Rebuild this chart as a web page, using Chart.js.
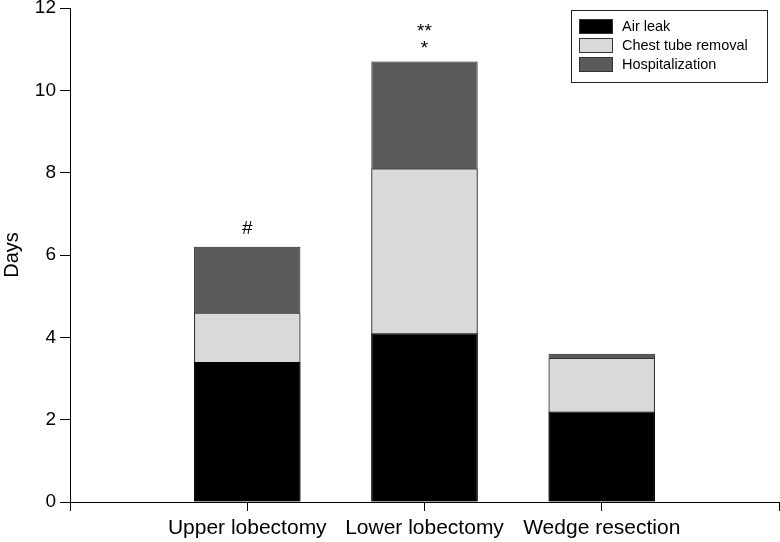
<!DOCTYPE html>
<html>
<head>
<meta charset="utf-8">
<script src="https://cdn.jsdelivr.net/npm/chart.js@4.4.1/dist/chart.umd.min.js"></script>
<style>
  html, body { margin: 0; padding: 0; background: #fff; }
  #wrap { width: 780px; height: 542px; }
</style>
</head>
<body>
<div id="wrap"><canvas id="chart"></canvas></div>
<script>
// categories sit at x = 1, 2, 3 on an axis running 0..4
var categories = ['Upper lobectomy', 'Lower lobectomy', 'Wedge resection'];
var airLeak = [3.4, 4.1, 2.2];
var chestTube = [4.6, 8.1, 3.5];
var hospital = [6.2, 10.7, 3.6];
var marks = ['#', '**\n*', ''];
var yTicks = [0, 2, 4, 6, 8, 10, 12];

var FONT = '"Liberation Sans", Arial, sans-serif';

function points(values) {
    return values.map(function (v, i) { return { x: i + 1, y: v }; });
}

var markPlugin = {
    id: 'marks',
    afterDatasetsDraw: function (chart) {
        var ctx = chart.ctx;
        var xs = chart.scales.x, ys = chart.scales.y;
        ctx.save();
        ctx.fillStyle = '#000';
        ctx.font = '19px ' + FONT;
        ctx.textAlign = 'center';
        ctx.textBaseline = 'alphabetic';
        marks.forEach(function (m, i) {
            if (!m) return;
            var lines = m.split('\n');
            var cx = xs.getPixelForValue(i + 1);
            var top = ys.getPixelForValue(hospital[i]);
            var last = lines[lines.length - 1];
            // asterisks sit high in the glyph box, '#' sits on the baseline
            var base = last.indexOf('*') >= 0 ? top - 8 : top - 13;
            for (var k = lines.length - 1; k >= 0; k--) {
                ctx.fillText(lines[k], cx, base - (lines.length - 1 - k) * 17);
            }
        });
        ctx.restore();
    }
};

var legendPlugin = {
    id: 'boxLegend',
    afterDraw: function (chart) {
        var ctx = chart.ctx;
        var x = 571, y = 10, w = 196, h = 72;
        ctx.save();
        ctx.fillStyle = '#fff';
        ctx.fillRect(x, y, w, h);
        ctx.strokeStyle = '#222';
        ctx.lineWidth = 1;
        ctx.strokeRect(x + 0.5, y + 0.5, w, h);
        ctx.font = '14.5px ' + FONT;
        ctx.textBaseline = 'middle';
        chart.data.datasets.forEach(function (ds, i) {
            var ry = y + 9 + i * 19;
            ctx.fillStyle = ds.backgroundColor;
            ctx.fillRect(x + 8, ry, 34, 15);
            ctx.strokeStyle = '#333';
            ctx.strokeRect(x + 8.5, ry + 0.5, 33, 14);
            ctx.fillStyle = '#000';
            ctx.fillText(ds.label, x + 51, ry + 8);
        });
        ctx.restore();
    }
};

new Chart(document.getElementById('chart'), {
    type: 'bar',
    data: {
        datasets: [{
            label: 'Air leak',
            data: points(airLeak),
            backgroundColor: '#000000',
            borderColor: '#000000'
        }, {
            label: 'Chest tube removal',
            data: points(chestTube),
            backgroundColor: '#d9d9d9',
            borderColor: '#333333'
        }, {
            label: 'Hospitalization',
            data: points(hospital),
            backgroundColor: '#5a5a5a',
            borderColor: '#222222'
        }]
    },
    options: {
        responsive: true,
        maintainAspectRatio: false,
        animation: false,
        layout: { padding: 0 },
        datasets: {
            bar: {
                grouped: false,
                borderWidth: 1,
                barPercentage: 0.6,
                categoryPercentage: 1
            }
        },
        scales: {
            x: {
                type: 'linear',
                min: 0,
                max: 4,
                offset: false,
                afterFit: function (s) { s.height = 40; s.paddingRight = 1; },
                afterBuildTicks: function (s) {
                    s.ticks = [0, 1, 2, 3, 4].map(function (v) { return { value: v }; });
                },
                ticks: {
                    color: '#000',
                    font: { family: FONT, size: 21 },
                    padding: 5,
                    maxRotation: 0,
                    autoSkip: false,
                    callback: function (v) { return categories[v - 1] || ''; }
                },
                grid: { drawOnChartArea: false, drawTicks: true, tickLength: 9, color: '#000', offset: false },
                border: { color: '#000', width: 1 }
            },
            y: {
                min: 0,
                max: 12,
                afterFit: function (s) { s.width = 70; s.paddingTop = 8; },
                afterBuildTicks: function (s) {
                    s.ticks = yTicks.map(function (v) { return { value: v }; });
                },
                ticks: {
                    color: '#000',
                    font: { family: FONT, size: 19 },
                    padding: 4
                },
                title: {
                    display: true,
                    text: 'Days',
                    color: '#000',
                    font: { family: FONT, size: 20 },
                    padding: 0
                },
                grid: { drawOnChartArea: false, drawTicks: true, tickLength: 10, color: '#000' },
                border: { color: '#000', width: 1 }
            }
        },
        plugins: {
            legend: { display: false },
            tooltip: { enabled: false }
        }
    },
    plugins: [markPlugin, legendPlugin]
});
</script>
</body>
</html>
